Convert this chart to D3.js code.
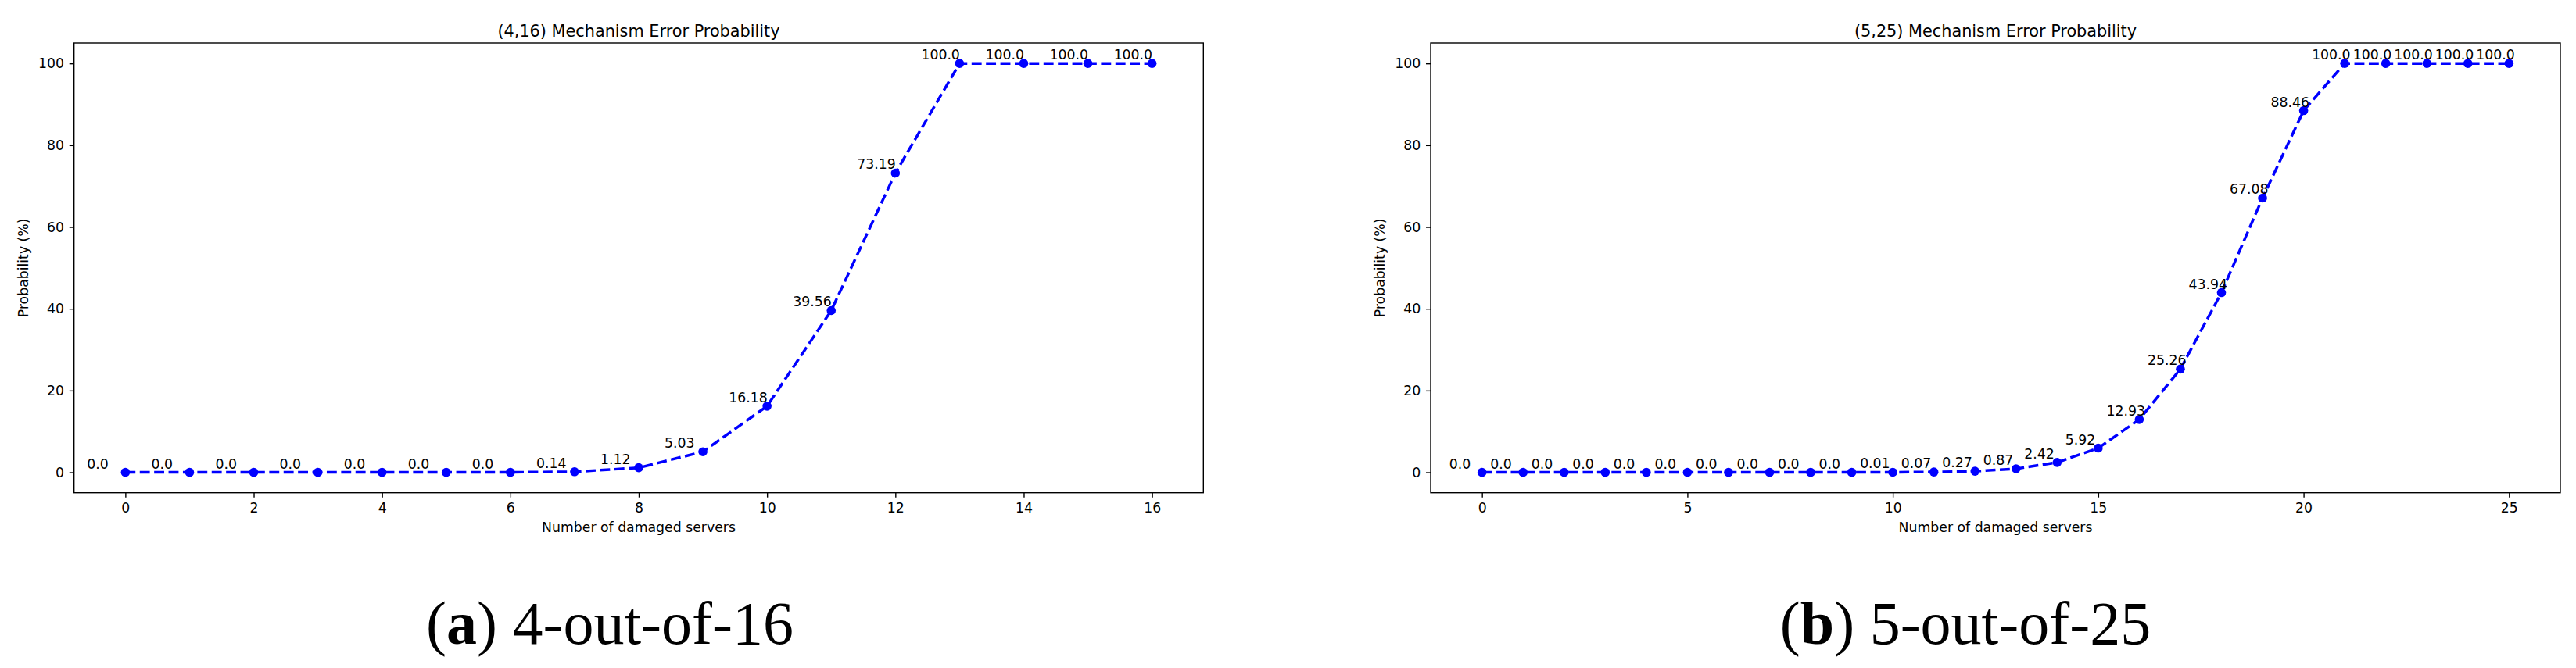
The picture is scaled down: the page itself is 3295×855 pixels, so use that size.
<!DOCTYPE html>
<html>
<head>
<meta charset="utf-8">
<script src="https://cdn.jsdelivr.net/npm/d3@7"></script>
<style>
  html, body { margin: 0; padding: 0; background: #ffffff; }
  svg { display: block; }
  text { font-family: "DejaVu Sans", sans-serif; fill: #000; }
</style>
</head>
<body>
<svg id="chart" width="3295" height="855"></svg>
<script>
// ---------------- data ----------------
const serversA = [0, 1, 2, 3, 4, 5, 6, 7, 8, 9, 10, 11, 12, 13, 14, 15, 16];
const probA = [0, 0, 0, 0, 0, 0, 0, 0.14, 1.12, 5.03, 16.18, 39.56, 73.19, 100, 100, 100, 100];

const serversB = [0, 1, 2, 3, 4, 5, 6, 7, 8, 9, 10, 11, 12, 13, 14, 15, 16, 17, 18, 19, 20, 21, 22, 23, 24, 25];
const probB = [0, 0, 0, 0, 0, 0, 0, 0, 0, 0, 0.01, 0.07, 0.27, 0.87, 2.42, 5.92, 12.93, 25.26, 43.94, 67.08, 88.46, 100, 100, 100, 100, 100];

const xTicksA = [0, 2, 4, 6, 8, 10, 12, 14, 16];
const xTicksB = [0, 5, 10, 15, 20, 25];
const yTicks = [0, 20, 40, 60, 80, 100];

const titleA = "(4,16) Mechanism Error Probability";
const titleB = "(5,25) Mechanism Error Probability";
const xLabel = "Number of damaged servers";
const yLabel = "Probability (%)";
const captionA = { tag: "a", text: "4-out-of-16" };
const captionB = { tag: "b", text: "5-out-of-25" };

// ---------------- layout ----------------
const svg = d3.select("#chart");
const TOP = 55, BOTTOM = 630.7;
const BLUE = "#0000ff";
const TICK_FS = 17.3, TITLE_FS = 20.8;

function fmt(v) {
  return Number.isInteger(v) ? v.toFixed(1) : String(v);
}

function panel(opts) {
  const { left, right, xs, ys, xTicks, title, labelShift, caption, captionX } = opts;
  const g = svg.append("g");
  const xMin = d3.min(xs), xMax = d3.max(xs);
  const pad = (xMax - xMin) * 0.05;
  const x = d3.scaleLinear().domain([xMin - pad, xMax + pad]).range([left, right]);
  const y = d3.scaleLinear().domain([-5, 105]).range([BOTTOM, TOP]);

  // axes
  const xAxis = d3.axisBottom(x).tickValues(xTicks).tickFormat(d3.format("d"))
    .tickSize(6).tickPadding(7.5).tickSizeOuter(0);
  const yAxis = d3.axisLeft(y).tickValues(yTicks).tickFormat(d3.format("d"))
    .tickSize(6).tickPadding(6.7).tickSizeOuter(0);

  const gx = g.append("g").attr("transform", `translate(0,${BOTTOM})`).call(xAxis);
  const gy = g.append("g").attr("transform", `translate(${left},0)`).call(yAxis);
  [gx, gy].forEach(a => {
    a.select(".domain").remove();
    a.selectAll(".tick line").attr("stroke", "#000").attr("stroke-width", 1.4);
    a.selectAll(".tick text").attr("font-size", TICK_FS)
      .attr("font-family", "DejaVu Sans").attr("fill", "#000");
  });

  // frame
  g.append("rect")
    .attr("x", left).attr("y", TOP)
    .attr("width", right - left).attr("height", BOTTOM - TOP)
    .attr("fill", "none").attr("stroke", "#000").attr("stroke-width", 1.4);

  // line
  const pts = xs.map((d, i) => [d, ys[i]]);
  g.append("path")
    .datum(pts)
    .attr("d", d3.line().x(d => x(d[0])).y(d => y(d[1])))
    .attr("fill", "none")
    .attr("stroke", BLUE)
    .attr("stroke-width", 3.47)
    .attr("stroke-dasharray", "12.85,5.55");

  // markers
  g.selectAll("circle.pt").data(pts).join("circle")
    .attr("class", "pt")
    .attr("cx", d => x(d[0])).attr("cy", d => y(d[1]))
    .attr("r", 5.8).attr("fill", BLUE);

  // value labels
  g.selectAll("text.val").data(pts).join("text")
    .attr("class", "val")
    .attr("x", d => x(d[0]) + labelShift)
    .attr("y", d => y(d[1]) - 5)
    .attr("font-size", TICK_FS)
    .attr("text-anchor", "start")
    .text(d => fmt(d[1]));

  // title
  const cx = (left + right) / 2;
  g.append("text")
    .attr("x", cx).attr("y", 46.5)
    .attr("text-anchor", "middle")
    .attr("font-size", TITLE_FS)
    .text(title);

  // x label
  g.append("text")
    .attr("x", cx).attr("y", 681)
    .attr("text-anchor", "middle")
    .attr("font-size", TICK_FS)
    .text(xLabel);

  // y label
  const cy = (TOP + BOTTOM) / 2;
  g.append("text")
    .attr("transform", `translate(${left - 59},${cy}) rotate(-90)`)
    .attr("text-anchor", "middle")
    .attr("font-size", TICK_FS)
    .text(yLabel);

  // caption
  const cap = g.append("text")
    .attr("x", captionX).attr("y", 824)
    .attr("text-anchor", "middle")
    .attr("font-size", 78)
    .style("font-family", "'Palatino Linotype', Palatino, 'Book Antiqua', 'Liberation Serif', serif");
  cap.append("tspan").text("(");
  cap.append("tspan").attr("font-weight", "bold").text(caption.tag);
  cap.append("tspan").text(") " + caption.text);
}

panel({ left: 94.7, right: 1539.3, xs: serversA, ys: probA, xTicks: xTicksA,
        title: titleA, labelShift: -49, caption: captionA, captionX: 780 });
panel({ left: 1830, right: 3275, xs: serversB, ys: probB, xTicks: xTicksB,
        title: titleB, labelShift: -42, caption: captionB, captionX: 2514 });
</script>
</body>
</html>
